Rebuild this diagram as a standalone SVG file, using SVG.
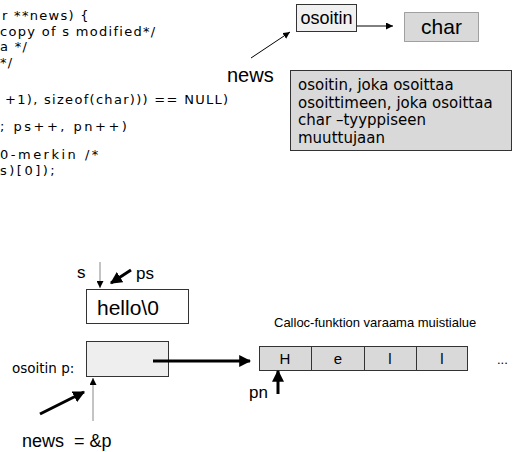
<svg xmlns="http://www.w3.org/2000/svg" width="513" height="452" viewBox="0 0 513 452">
<defs>
<style>
text{font-family:"Liberation Sans",Arial,sans-serif;fill:#000}
.code{font-family:"DejaVu Sans",Verdana,sans-serif;font-size:13px;letter-spacing:1.3px}
.wide{letter-spacing:2.5px}
.desc{font-family:"DejaVu Sans",Verdana,sans-serif;font-size:15px}
.box{stroke:#333;stroke-width:1}
.thin{stroke:#000;stroke-width:1;fill:none}
.gray{stroke:#888;stroke-width:1;fill:none}
.thick{stroke:#000;stroke-width:3;fill:none}
</style>
<marker id="ah" viewBox="0 0 10 10" refX="10" refY="5" markerWidth="7" markerHeight="7" orient="auto" markerUnits="userSpaceOnUse"><path d="M0,0L10,5L0,10z" fill="#000"/></marker>
<marker id="ahb" viewBox="0 0 10 10" refX="9" refY="5" markerWidth="4" markerHeight="4" orient="auto"><path d="M0,0L10,5L0,10z" fill="#000"/></marker>
</defs>
<rect width="513" height="452" fill="#fff"/>
<g id="code">
<text class="code" x="2" y="20">r **news) {</text>
<text class="code" x="0" y="35.5">copy of s modified*/</text>
<text class="code" x="0" y="51">a */</text>
<text class="code" x="0" y="66.5">*/</text>
<text class="code" x="5" y="104">+1), sizeof(char))) == NULL)</text>
<text class="code wide" x="0" y="131">; ps++, pn++)</text>
<text class="code wide" x="0" y="158.5">0-merkin /*</text>
<text class="code wide" x="0" y="174.5">s)[0]);</text>
</g>
<g id="osoitin">
<rect class="box" x="296.5" y="4.5" width="60" height="27" fill="#f0f0f0"/>
<text x="326.5" y="24" font-size="18" text-anchor="middle">osoitin</text>
</g>
<g id="char">
<rect x="404.5" y="12.5" width="74" height="29" fill="#d9d9d9" stroke="#555" stroke-dasharray="1,1"/>
<text x="441.5" y="34" font-size="21" text-anchor="middle">char</text>
</g>
<g id="newsLabel">
<text x="227" y="82" font-size="20">news</text>
</g>
<g id="desc">
<rect class="box" x="290.5" y="70.5" width="221" height="80" fill="#d9d9d9"/>
<text class="desc" x="298" y="90">osoitin, joka osoittaa</text>
<text class="desc" x="298" y="107.5">osoittimeen, joka osoittaa</text>
<text class="desc" x="298" y="125">char –tyyppiseen</text>
<text class="desc" x="298" y="142.5">muuttujaan</text>
</g>
<g id="sLabel"><text x="77" y="278" font-size="17">s</text></g>
<g id="psLabel"><text x="136" y="279" font-size="17">ps</text></g>
<g id="hello">
<rect class="box" x="86.5" y="289.5" width="102" height="34" fill="#fff"/>
<text x="97" y="315" font-size="21">hello\0</text>
</g>
<g id="pLabel"><text x="12" y="373" style="font-family:'DejaVu Sans',Verdana,sans-serif;font-size:13.5px">osoitin p:</text></g>
<g id="p">
<rect class="box" x="86.5" y="341.5" width="82" height="35" fill="#eeeeee"/>
</g>
<g id="callocLabel"><text x="274" y="327" font-size="13">Calloc-funktion varaama muistialue</text></g>
<g id="cells">
<rect class="box" x="259.5" y="346.5" width="52" height="24" fill="#d9d9d9"/>
<rect class="box" x="311.5" y="346.5" width="53" height="24" fill="#d9d9d9"/>
<rect class="box" x="364.5" y="346.5" width="52" height="24" fill="#d9d9d9"/>
<rect class="box" x="416.5" y="346.5" width="51" height="24" fill="#d9d9d9"/>
<text x="285" y="364" font-size="15" text-anchor="middle">H</text>
<text x="338" y="364" font-size="15" text-anchor="middle">e</text>
<text x="390" y="364" font-size="15" text-anchor="middle">l</text>
<text x="442" y="364" font-size="15" text-anchor="middle">l</text>
<text x="497" y="364" font-size="13">...</text>
</g>
<g id="pnLabel"><text x="249" y="398" font-size="17">pn</text></g>
<g id="newsP"><text x="22" y="447" font-size="18" style="white-space:pre">news  = &amp;p</text></g>
<g id="connectors">
<line class="thin" x1="357" y1="26" x2="393" y2="26" marker-end="url(#ah)"/>
<line class="thin" x1="251" y1="58" x2="290" y2="32" marker-end="url(#ah)"/>
<line class="gray" x1="100" y1="262" x2="100" y2="288" marker-end="url(#ah)"/>
<line class="thick" x1="131" y1="270" x2="111" y2="283" marker-end="url(#ahb)"/>
<line class="thick" x1="153" y1="361" x2="250" y2="361" marker-end="url(#ahb)"/>
<line class="thick" x1="278" y1="394" x2="278" y2="371" marker-end="url(#ahb)"/>
<line class="thick" x1="40" y1="414" x2="84" y2="392" marker-end="url(#ahb)"/>
<line class="gray" x1="93" y1="421" x2="93" y2="378" marker-end="url(#ah)"/>
</g>
</svg>
